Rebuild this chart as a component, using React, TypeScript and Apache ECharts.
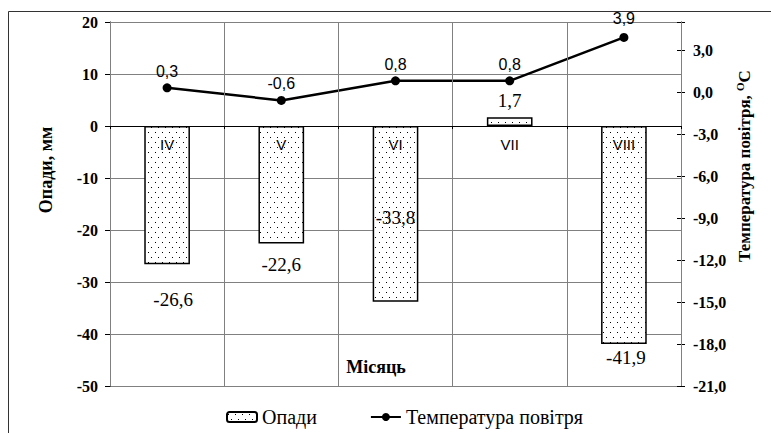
import React, { useEffect, useRef } from 'react';
import * as echarts from 'echarts';

// ---- data ----
const months: string[] = ['IV', 'V', 'VI', 'VII', 'VIII'];
const precipitation: number[] = [-26.6, -22.6, -33.8, 1.7, -41.9];
const temperature: number[] = [0.3, -0.6, 0.8, 0.8, 3.9];

// axis scales
const precipMin = -50;
const precipMax = 20;
const precipStep = 10;
const tempMin = -21;
const tempMax = 5;
const tempStep = 3;

// label nudges (style, not data)
const barLabelOffsets: number[][] = [[6, 21], [0, 6], [0, -99], [0, -2], [2, -1]];
const lineLabelOffsets: number[][] = [[0, 0], [0, 0], [0, 0], [0, 0], [0, -2]];

const SERIF = 'Liberation Serif';
const SANS = 'Liberation Sans';
const fmt1 = (v: number) => v.toFixed(1).replace('.', ',');

const GRID_TOP = 22;
const GRID_BOTTOM = 47;
const CHART_H = 433;

function makePattern(): HTMLCanvasElement {
  const c = document.createElement('canvas');
  c.width = 7;
  c.height = 10;
  const ctx = c.getContext('2d')!;
  ctx.fillStyle = '#ffffff';
  ctx.fillRect(0, 0, 7, 10);
  ctx.fillStyle = '#000000';
  ctx.fillRect(1, 2, 1, 1);
  ctx.fillRect(4, 7, 1, 1);
  return c;
}

export default function App() {
  const ref = useRef<HTMLDivElement>(null);
  useEffect(() => {
    if (!ref.current) return;
    const chart = echarts.init(ref.current, undefined, { renderer: 'svg' });
    const pat = makePattern();
    const pattern: any = { image: pat, repeat: 'repeat', imageWidth: 7, imageHeight: 10 };

    const gridH = CHART_H - GRID_TOP - GRID_BOTTOM;
    const zeroFromBottom = ((0 - precipMin) / (precipMax - precipMin)) * gridH;

    const legendText = { fontFamily: SERIF, fontSize: 20, color: '#000', fontWeight: 'normal' };

    const option: any = {
      animation: false,
      textStyle: { fontFamily: SERIF, color: '#000' },
      grid: { left: 110, right: 90, top: GRID_TOP, bottom: GRID_BOTTOM },
      legend: {
        left: 221,
        top: 402,
        itemWidth: 30,
        itemHeight: 10,
        itemGap: 53,
        textStyle: legendText,
        data: [
          { name: 'Опади', textStyle: legendText },
          { name: 'Температура повітря', textStyle: legendText },
        ],
      },
      xAxis: {
        type: 'category',
        data: months,
        offset: -zeroFromBottom,
        z: 10,
        axisLine: { onZero: false, lineStyle: { color: '#000', width: 1 } },
        axisTick: { show: true, length: 3, lineStyle: { color: '#000' } },
        axisLabel: { fontFamily: SANS, fontSize: 15, color: '#000', margin: 11 },
        splitLine: { show: true, lineStyle: { color: '#808080', width: 1 } },
      },
      yAxis: [
        {
          type: 'value',
          min: precipMin,
          max: precipMax,
          interval: precipStep,
          position: 'left',
          axisLine: { show: true, lineStyle: { color: '#000', width: 1 } },
          axisTick: { show: true, length: 5, lineStyle: { color: '#000' } },
          axisLabel: { fontFamily: SERIF, fontWeight: 'bold', fontSize: 16, color: '#000', margin: 12 },
          splitLine: { show: true, lineStyle: { color: '#808080', width: 1 } },
        },
        {
          type: 'value',
          min: tempMin,
          max: tempMax,
          interval: tempStep,
          position: 'right',
          axisLine: { show: true, lineStyle: { color: '#000', width: 1 } },
          axisTick: { show: true, length: 4, lineStyle: { color: '#000' } },
          axisLabel: {
            fontFamily: SERIF,
            fontWeight: 'bold',
            fontSize: 16,
            color: '#000',
            margin: 12,
            formatter: (v: number) => ((v - tempMin) % tempStep === 0 ? fmt1(v) : ''),
          },
          splitLine: { show: false },
        },
        {
          type: 'value',
          min: tempMin,
          max: tempMax,
          interval: tempStep,
          position: 'right',
          axisLine: { show: false },
          axisTick: { show: true, inside: true, length: 4, lineStyle: { color: '#000' } },
          axisLabel: { show: false },
          splitLine: { show: false },
        },
      ],
      series: [
        {
          name: 'Опади',
          type: 'bar',
          yAxisIndex: 0,
          barWidth: '40%',
          data: precipitation.map((v, i) => ({ value: v, label: { offset: barLabelOffsets[i] } })),
          itemStyle: { color: pattern, borderColor: '#000', borderWidth: 1.5 },
          label: {
            show: true,
            position: 'outside',
            formatter: (p: any) => fmt1(p.value),
            fontFamily: SERIF,
            fontSize: 19,
            color: '#000',
          },
          z: 2,
        },
        {
          name: 'Температура повітря',
          type: 'line',
          yAxisIndex: 1,
          data: temperature.map((v, i) => ({ value: v, label: { offset: lineLabelOffsets[i] } })),
          symbol: 'circle',
          symbolSize: 9,
          lineStyle: { color: '#000', width: 2.5 },
          itemStyle: { color: '#000' },
          label: {
            show: true,
            position: 'top',
            distance: 4,
            formatter: (p: any) => fmt1(p.value),
            fontFamily: SANS,
            fontSize: 16,
            color: '#000',
          },
          z: 3,
        },
      ],
      graphic: [
        {
          type: 'rect',
          shape: { x: 8.5, y: 11.5, width: 800, height: 500 },
          style: { fill: 'none', stroke: '#333', lineWidth: 1 },
          silent: true,
        },
        {
          type: 'text',
          x: 376,
          y: 367,
          style: {
            text: 'Місяць',
            fontFamily: SERIF,
            fontWeight: 'bold',
            fontSize: 18,
            fill: '#000',
            align: 'center',
            verticalAlign: 'middle',
          },
        },
        {
          type: 'text',
          x: 46,
          y: 170,
          rotation: Math.PI / 2,
          style: {
            text: 'Опади, мм',
            fontFamily: SERIF,
            fontWeight: 'bold',
            fontSize: 18,
            fill: '#000',
            align: 'center',
            verticalAlign: 'middle',
          },
        },
        {
          type: 'text',
          x: 744,
          y: 166,
          rotation: Math.PI / 2,
          style: {
            text: 'Температура повітря, {sup|O}C',
            fontFamily: SERIF,
            fontWeight: 'bold',
            fontSize: 17,
            fill: '#000',
            align: 'center',
            verticalAlign: 'middle',
            rich: {
              sup: {
                fontFamily: SERIF,
                fontWeight: 'bold',
                fontSize: 11,
                fill: '#000',
                padding: [0, 0, 9, 0],
              },
            },
          },
        },
      ],
    };
    chart.setOption(option);
    return () => chart.dispose();
  }, []);
  return (
    <div
      ref={ref}
      style={{ position: 'fixed', left: 0, top: 0, width: 771, height: 433, background: '#fff' }}
    />
  );
}
